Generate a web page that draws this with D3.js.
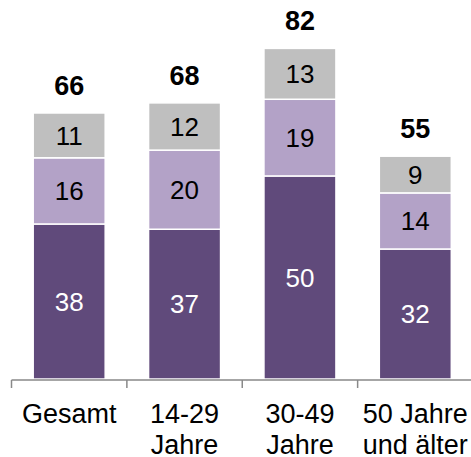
<!DOCTYPE html>
<html>
<head>
<meta charset="utf-8">
<script src="https://cdn.jsdelivr.net/npm/d3@7"></script>
<style>
html,body{margin:0;padding:0;background:#fff;}
svg{display:block;font-family:"Liberation Sans",Arial,sans-serif;}
</style>
</head>
<body>
<svg id="chart" width="471" height="457"></svg>
<script>
const categories = ["Gesamt", "14-29 Jahre", "30-49 Jahre", "50 Jahre und älter"];
const categoryLines = [["Gesamt"], ["14-29", "Jahre"], ["30-49", "Jahre"], ["50 Jahre", "und älter"]];
const seriesDark = [38.4, 37.1, 50.3, 32.2];
const seriesLight = [16.4, 19.6, 19.0, 13.9];
const seriesGrey = [11.1, 11.7, 12.6, 9.1];
const totalLabels = [66, 68, 82, 55];

const svg = d3.select("#chart");
const series = [
  {key: "dark", values: seriesDark, fill: "#604a7b", text: "#ffffff"},
  {key: "light", values: seriesLight, fill: "#b3a2c7", text: "#000000"},
  {key: "grey", values: seriesGrey, fill: "#bfbfbf", text: "#000000"}
];

const x = d3.scaleBand().domain(categories).range([11.5, 473]).padding(0);
const y = d3.scaleLinear().domain([0, 82]).range([379, 48]);
const barW = x.bandwidth() * 0.624;
const bx = c => x(c) + (x.bandwidth() - barW) / 2;

const stacks = categories.map((c, i) => {
  let acc = 0;
  return series.map(s => {
    const v = s.values[i];
    const seg = {c, i, s, v, y0: acc, y1: acc + v};
    acc += v;
    return seg;
  });
});

const g = svg.append("g");
stacks.forEach(st => {
  st.forEach(seg => {
    g.append("rect")
      .attr("x", bx(seg.c))
      .attr("y", y(seg.y1))
      .attr("width", barW)
      .attr("height", y(seg.y0) - y(seg.y1))
      .attr("fill", seg.s.fill)
      .attr("stroke", "#ffffff")
      .attr("stroke-width", 1.5);
    g.append("text")
      .attr("x", bx(seg.c) + barW / 2)
      .attr("y", (y(seg.y0) + y(seg.y1)) / 2)
      .attr("dy", "0.36em")
      .attr("text-anchor", "middle")
      .attr("font-size", "26px")
      .attr("fill", seg.s.text)
      .text(Math.round(seg.v));
  });
  const top = st[st.length - 1].y1;
  g.append("text")
    .attr("x", bx(st[0].c) + barW / 2)
    .attr("y", y(top) - 18)
    .attr("text-anchor", "middle")
    .attr("font-size", "27px")
    .attr("font-weight", "bold")
    .attr("fill", "#000")
    .text(totalLabels[st[0].i]);
});

const axisY = 380;
const ax = svg.append("g");
ax.append("line")
  .attr("x1", x.range()[0]).attr("x2", 471)
  .attr("y1", axisY).attr("y2", axisY)
  .attr("stroke", "#898989").attr("stroke-width", 1.5);
const tickXs = categories.map(c => x(c)).concat([x.range()[1]]);
tickXs.forEach(tx => {
  ax.append("line")
    .attr("x1", tx).attr("x2", tx)
    .attr("y1", axisY).attr("y2", axisY + 8)
    .attr("stroke", "#898989").attr("stroke-width", 1.5);
});
categories.forEach((c, i) => {
  const t = ax.append("text")
    .attr("x", x(c) + x.bandwidth() / 2)
    .attr("y", 423)
    .attr("text-anchor", "middle")
    .attr("font-size", "27px")
    .attr("fill", "#000");
  categoryLines[i].forEach((ln, j) => {
    t.append("tspan")
      .attr("x", x(c) + x.bandwidth() / 2)
      .attr("dy", j === 0 ? 0 : 31)
      .text(ln);
  });
});
</script>
</body>
</html>
